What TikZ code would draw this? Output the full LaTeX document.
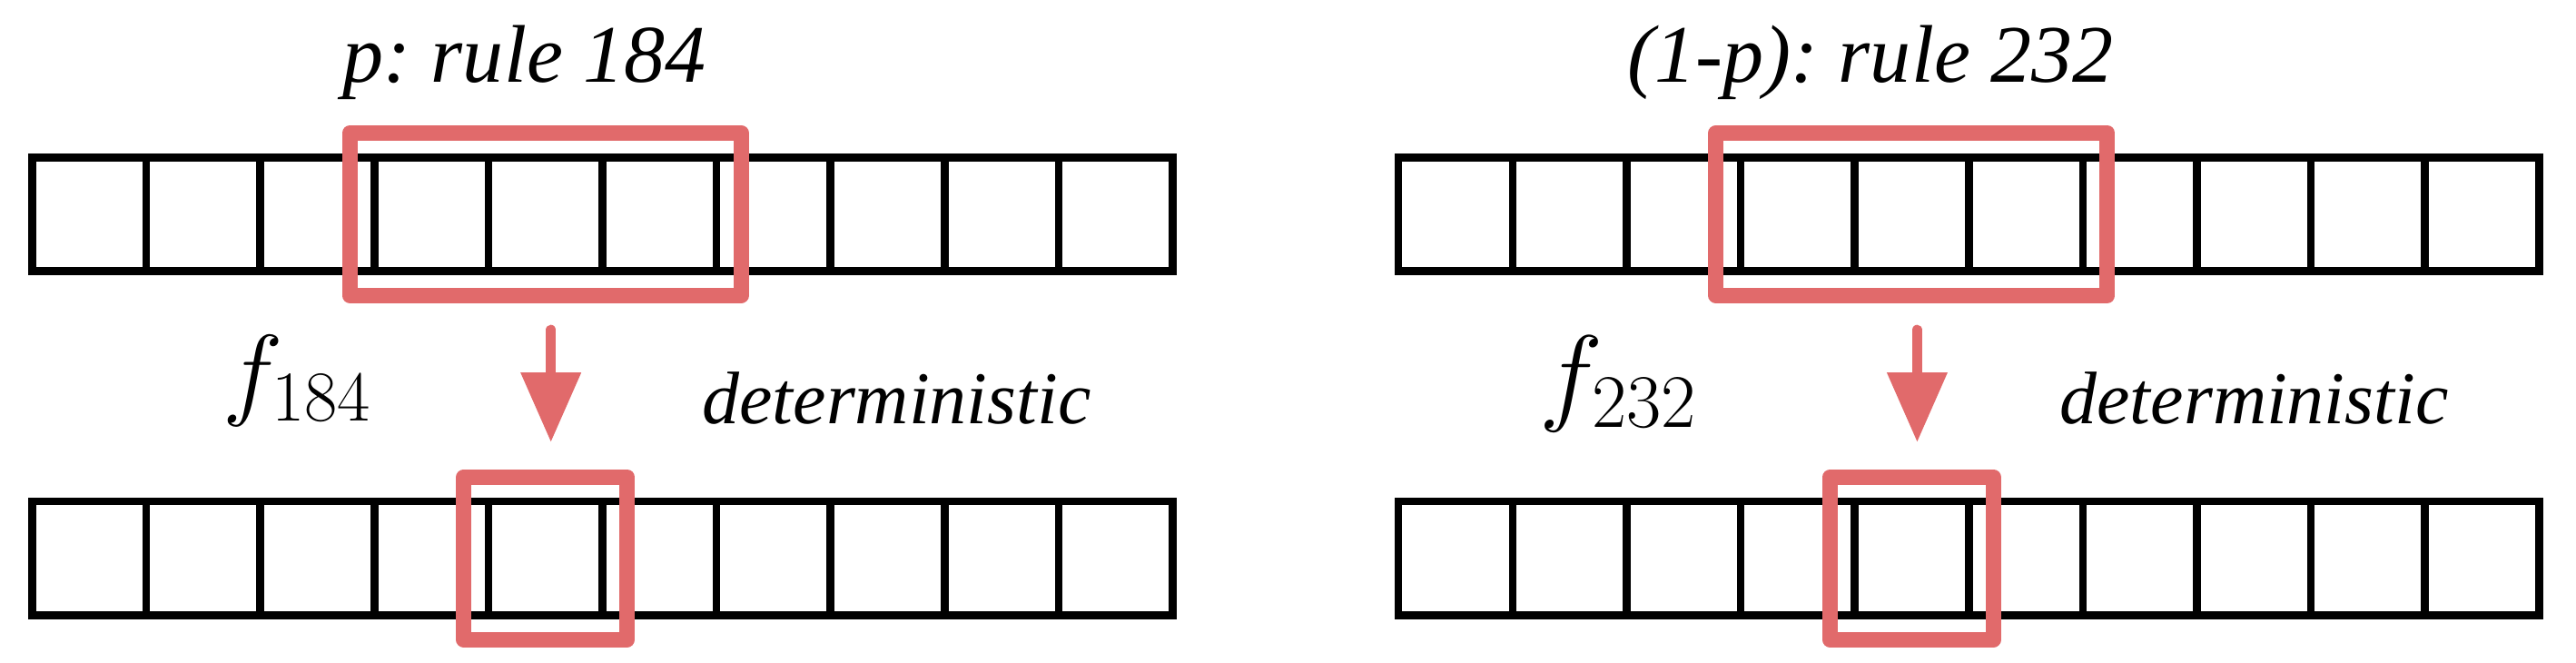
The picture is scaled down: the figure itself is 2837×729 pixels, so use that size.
\RequirePackage{fix-cm}
\documentclass[tikz,border=0pt]{standalone}
\usepackage[no-math]{fontspec}
\newfontfamily\tnr{Liberation Serif}
\usetikzlibrary{fit,arrows.meta}
\definecolor{rulered}{RGB}{225,106,107}
\begin{document}
\frenchspacing
\begin{tikzpicture}[x=0.01cm,y=-0.01cm,
  cell/.style={draw=black,line width=0.085cm,minimum width=1.256cm,minimum height=1.25cm,inner sep=0pt,outer sep=0pt},
  window/.style={draw=rulered,line width=0.17cm,inner sep=0.27cm,outer sep=0pt,line join=round},
  redarrow/.style={draw=rulered,line width=0.115cm,line cap=round,-{Triangle[length=0.76cm,width=0.67cm,line width=0pt]}},
  title/.style={font=\tnr\itshape\fontsize{25.6}{30}\selectfont,inner sep=0pt,anchor=base},
  note/.style={font=\tnr\itshape\fontsize{23.3}{28}\selectfont,inner sep=0pt,anchor=base},
  fn/.style={inner sep=0pt,anchor=base}]
\useasboundingbox (0,0) rectangle (2837,729);
\foreach \i in {1,...,10} {
  \node[cell] (LT\i) at ({98.3+125.6*(\i-1)},235.8) {};
  \node[cell] (LB\i) at ({98.3+125.6*(\i-1)},614.75) {};
  \node[cell] (RT\i) at ({1603.0+125.6*(\i-1)},235.8) {};
  \node[cell] (RB\i) at ({1603.0+125.6*(\i-1)},614.75) {};
}
\node[window,fit=(LT4)(LT6)] (LTW) {};
\node[window,fit=(LB5)] (LBW) {};
\node[window,fit=(RT4)(RT6)] (RTW) {};
\node[window,fit=(RB5)] (RBW) {};
\draw[redarrow,shorten <=0.38cm,shorten >=0.39cm] ([xshift=0.06cm]LTW.south) -- ([xshift=0.06cm]LBW.north);
\draw[redarrow,shorten <=0.38cm,shorten >=0.39cm] ([xshift=0.06cm]RTW.south) -- ([xshift=0.06cm]RBW.north);
\node[title] (t1) at (577.5,90) {p: rule 184};
\node[title] (t2) at (2060,90) {(1-p): rule 232};
\node[fn,font=\fontsize{32}{38}\selectfont] (f1) at (327.5,447) {$f_{184}$};
\node[fn,font=\fontsize{33.8}{40}\selectfont] (f2) at (1782.5,452.5) {$f_{232}$};
\node[note] (d1) at (987.5,466.7) {deterministic};
\node[note] (d2) at (2482.5,466.7) {deterministic};
\end{tikzpicture}
\end{document}
